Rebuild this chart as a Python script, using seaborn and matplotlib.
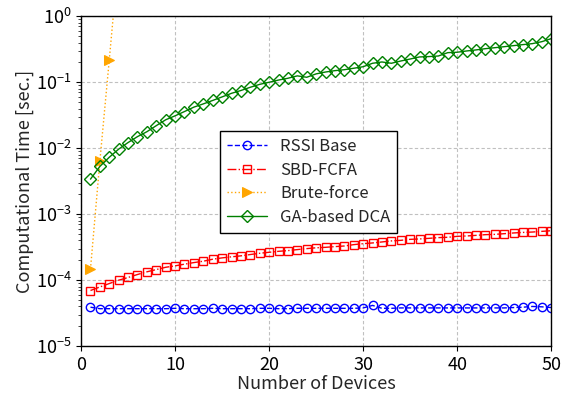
import numpy as np
import pandas as pd
import matplotlib
matplotlib.use("Agg")
import matplotlib.pyplot as plt
import seaborn as sns

devices = list(range(1, 51))

rssi_base = [3.9e-5, 3.7e-5, 3.7e-5, 3.7e-5, 3.7e-5, 3.7e-5, 3.7e-5, 3.7e-5, 3.7e-5, 3.75e-5,
             3.7e-5, 3.7e-5, 3.7e-5, 3.75e-5, 3.7e-5, 3.7e-5, 3.7e-5, 3.7e-5, 3.75e-5, 3.75e-5,
             3.7e-5, 3.7e-5, 3.75e-5, 3.75e-5, 3.75e-5, 3.75e-5, 3.75e-5, 3.75e-5, 3.75e-5, 3.8e-5,
             4.15e-5, 3.75e-5, 3.75e-5, 3.8e-5, 3.8e-5, 3.8e-5, 3.8e-5, 3.8e-5, 3.8e-5, 3.8e-5,
             3.8e-5, 3.8e-5, 3.8e-5, 3.8e-5, 3.8e-5, 3.85e-5, 3.9e-5, 4.0e-5, 3.95e-5, 3.85e-5]

sbd_fcfa = [6.98e-5, 7.9e-5, 8.9e-5, 1.0e-4, 1.1e-4, 1.22e-4, 1.34e-4, 1.45e-4, 1.57e-4, 1.65e-4,
            1.75e-4, 1.85e-4, 1.94e-4, 2.08e-4, 2.18e-4, 2.26e-4, 2.34e-4, 2.45e-4, 2.56e-4, 2.65e-4,
            2.74e-4, 2.81e-4, 2.91e-4, 3.01e-4, 3.1e-4, 3.15e-4, 3.23e-4, 3.3e-4, 3.46e-4, 3.58e-4,
            3.67e-4, 3.8e-4, 3.94e-4, 4.02e-4, 4.16e-4, 4.22e-4, 4.31e-4, 4.42e-4, 4.47e-4, 4.62e-4,
            4.68e-4, 4.78e-4, 4.9e-4, 4.95e-4, 5.07e-4, 5.2e-4, 5.3e-4, 5.37e-4, 5.5e-4, 5.62e-4]

brute_x = [1, 2, 3, 4]
brute_force = [1.47e-4, 6.4e-3, 0.219, 8.0]

ga_dca = [3.4e-3, 5.3e-3, 7.3e-3, 9.7e-3, 1.22e-2, 1.5e-2, 1.78e-2, 2.2e-2, 2.7e-2, 3.1e-2,
          3.6e-2, 4.2e-2, 4.7e-2, 5.3e-2, 6.0e-2, 6.8e-2, 7.5e-2, 8.4e-2, 9.3e-2, 0.1,
          0.108, 0.115, 0.125, 0.119, 0.134, 0.143, 0.150, 0.155, 0.163, 0.172,
          0.194, 0.203, 0.194, 0.210, 0.225, 0.242, 0.245, 0.25, 0.281, 0.285,
          0.298, 0.309, 0.323, 0.334, 0.346, 0.359, 0.372, 0.385, 0.412, 0.458]

sns.set_style("ticks")
plt.rcParams['font.family'] = ['Noto Sans CJK JP', 'DejaVu Sans']
plt.rcParams['mathtext.fontset'] = 'custom'
plt.rcParams['mathtext.rm'] = 'Noto Sans CJK JP'
plt.rcParams['axes.unicode_minus'] = False

fig = plt.figure(figsize=(5.63, 3.97), dpi=100)
ax = fig.add_axes([0.144, 0.128, 0.835, 0.831])

sns.lineplot(x=devices, y=rssi_base, ax=ax, color='blue', linestyle='--', marker='o',
             markersize=6, markerfacecolor='none', markeredgecolor='blue', markeredgewidth=1,
             linewidth=1, label='RSSI Base')
sns.lineplot(x=devices, y=sbd_fcfa, ax=ax, color='red', linestyle='-.', marker='s',
             markersize=6, markerfacecolor='none', markeredgecolor='red', markeredgewidth=1,
             linewidth=1, label='SBD-FCFA')
sns.lineplot(x=brute_x, y=brute_force, ax=ax, color='orange', linestyle=':', marker='>',
             markersize=7, markerfacecolor='orange', markeredgecolor='orange',
             linewidth=1, label='Brute-force')
sns.lineplot(x=devices, y=ga_dca, ax=ax, color='green', linestyle='-', marker='D',
             markersize=6, markerfacecolor='none', markeredgecolor='green', markeredgewidth=1,
             linewidth=1, label='GA-based DCA')

ax.set_yscale('log')
ax.set_ylim(1e-5, 1)
ax.set_xlim(0, 50)
ax.set_xticks([0, 10, 20, 30, 40, 50])
ax.grid(True, which='major', linestyle=(0, (3, 2)), color='#c0c0c0', linewidth=0.8)
ax.tick_params(axis='both', labelsize=13, colors='black')
ax.set_xlabel('Number of Devices', fontsize=13, labelpad=1)
ax.set_ylabel('Computational Time [sec.]', fontsize=13, labelpad=1)
for s in ax.spines.values():
    s.set_color('black')
    s.set_linewidth(1.0)

leg = ax.legend(loc='center', bbox_to_anchor=(0.484, 0.498), fontsize=12, fancybox=False,
                edgecolor='black', framealpha=1, handlelength=2.4, borderpad=0.4,
                labelspacing=0.4)
leg.get_frame().set_linewidth(1.0)

fig.savefig('out.png', dpi=100)
